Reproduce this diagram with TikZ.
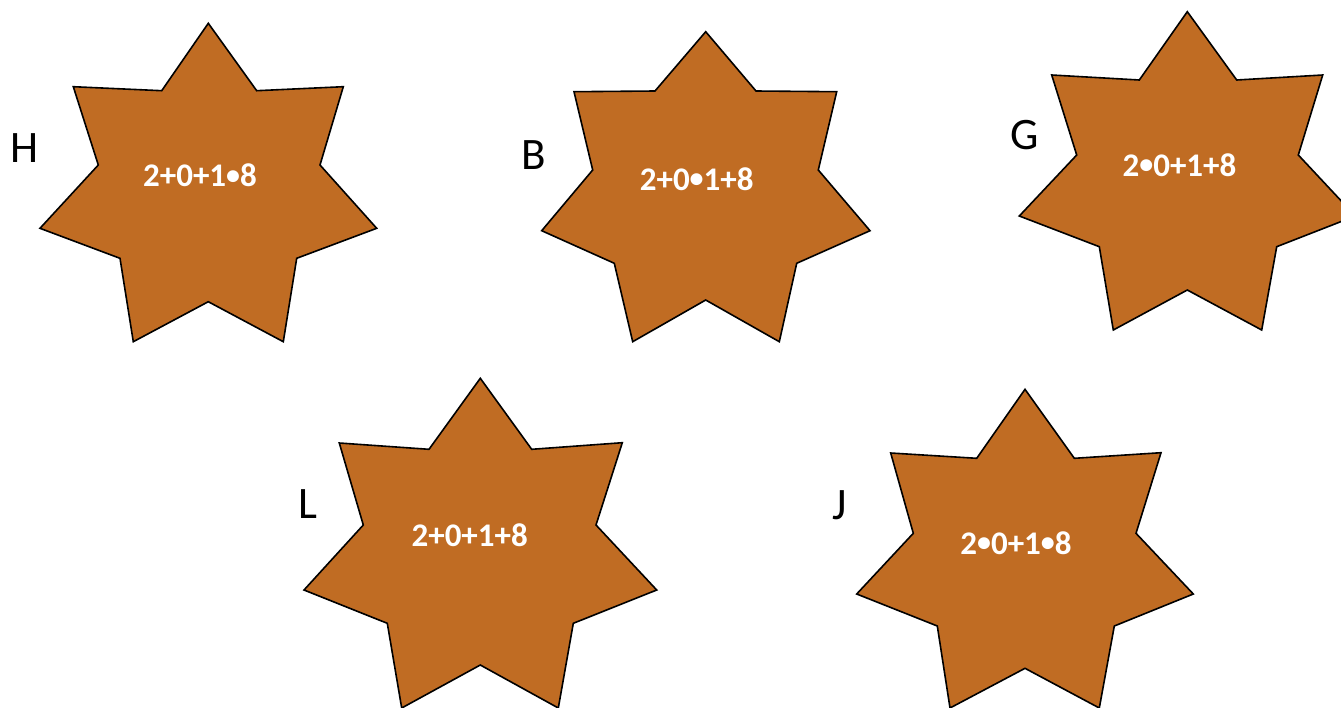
\documentclass[tikz,border=0pt]{standalone}
\usepackage{fontspec}
\setmainfont{Carlito}
\definecolor{starfill}{RGB}{192,108,35}
\newcommand{\sdot}{\raisebox{2.5pt}{\fontsize{28}{28}\selectfont •}}
\begin{document}
\begin{tikzpicture}[x=1pt,y=-1pt,
  starshape/.style={fill=starfill,draw=black,line width=1.6pt,line join=miter},
  val/.style={text=white,font=\fontsize{33}{33}\selectfont\bfseries,inner sep=0pt,anchor=base},
  lab/.style={text=black,font=\fontsize{45}{45}\selectfont,inner sep=0pt,anchor=base}]
\useasboundingbox (0,0) rectangle (1341,707);
\clip (0,0) rectangle (1341,707);
% star H
\draw[starshape] (208.3,23.3) -- (256.7,90.7) -- (343.3,86.7) -- (320,165) -- (376.7,228.3) -- (296.7,258.3) -- (283.3,341.7) -- (208.3,301.7) -- (133.3,341.7) -- (120,258.3) -- (40,228.3) -- (98.3,165) -- (73.3,86.7) -- (161.7,90.7) -- cycle;
% star B
\draw[starshape] (705.7,31.7) -- (756,91) -- (836.7,91.7) -- (818.3,170) -- (870,230.7) -- (796.7,263.3) -- (779.3,341.7) -- (705.7,300) -- (632.7,341.7) -- (614.3,263.3) -- (541.7,230.7) -- (592.7,170) -- (574,91.7) -- (655,91) -- cycle;
% star G
\draw[starshape] (1187.3,11.7) -- (1236.7,80) -- (1322.7,75) -- (1298.3,155) -- (1355.3,216) -- (1276.7,246.7) -- (1261.7,330) -- (1187.3,290) -- (1113.3,330) -- (1099.3,246.7) -- (1019.3,216) -- (1076.7,155) -- (1051.7,75) -- (1139.3,80) -- cycle;
% star L
\draw[starshape] (480.3,378.3) -- (531.7,449.3) -- (622.3,442.7) -- (596,525) -- (656.7,590) -- (573.3,623.3) -- (558.3,708) -- (480.3,665) -- (401.7,708) -- (387.3,623.3) -- (304,590) -- (363.3,525) -- (339.3,443) -- (429,449.3) -- cycle;
% star J
\draw[starshape] (1025,389.3) -- (1074.3,458.3) -- (1161,452.7) -- (1136,533.3) -- (1193.3,594) -- (1114.3,626) -- (1099.3,708) -- (1025,668.3) -- (950,708) -- (937.3,626) -- (856.7,594) -- (913.3,533.3) -- (890.7,453) -- (976.7,458.3) -- cycle;
% values
\node[val] (vH) at (200,186.5) {2+0+1\sdot8};
\node[val] (vB) at (696.7,190) {2+0\sdot1+8};
\node[val] (vG) at (1179.5,176) {2\sdot0+1+8};
\node[val] (vL) at (469.7,546) {2+0+1+8};
\node[val] (vJ) at (1016,554) {2\sdot0+1\sdot8};
% labels
\node[lab] (lH) at (25,162.7) {H};
\node[lab] (lB) at (534,169.3) {B};
\node[lab] (lG) at (1025,149.5) {G};
\node[lab] (lL) at (307.5,518.3) {L};
\node[lab] (lJ) at (840,519) {J};
\end{tikzpicture}
\end{document}
